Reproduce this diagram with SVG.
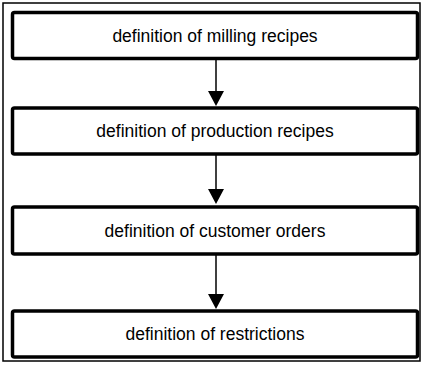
<svg xmlns="http://www.w3.org/2000/svg" width="423" height="365" viewBox="0 0 423 365">
<style>
.frame{fill:#fff;stroke:#000;stroke-width:1.5}
.box{fill:#fff;stroke:#000;stroke-width:3.5}
.lbl{font-family:"Liberation Sans",Arial,sans-serif;font-size:17.5px;fill:#000;text-anchor:middle}
.conn{stroke:#000;stroke-width:1.5;fill:none}
.head{fill:#000}
</style>
<rect class="frame" x="3" y="3" width="417" height="358"/>
<g id="connectors">
<line class="conn" x1="216" y1="60" x2="216" y2="92"/>
<polygon class="head" points="208,91 224,91 216,106"/>
<line class="conn" x1="216" y1="155" x2="216" y2="190"/>
<polygon class="head" points="208,189 224,189 216,204"/>
<line class="conn" x1="216" y1="255" x2="216" y2="295"/>
<polygon class="head" points="208,294 224,294 216,309"/>
</g>
<g id="n1"><rect class="box" x="12.5" y="12.5" width="405" height="46" rx="2"/><text class="lbl" x="215" y="41.5">definition of milling recipes</text></g>
<g id="n2"><rect class="box" x="12.5" y="108" width="405" height="46" rx="2"/><text class="lbl" x="215" y="137">definition of production recipes</text></g>
<g id="n3"><rect class="box" x="12.5" y="207" width="405" height="47" rx="2"/><text class="lbl" x="215" y="236.5">definition of customer orders</text></g>
<g id="n4"><rect class="box" x="12.5" y="311" width="405" height="46" rx="2"/><text class="lbl" x="215" y="340">definition of restrictions</text></g>
</svg>
